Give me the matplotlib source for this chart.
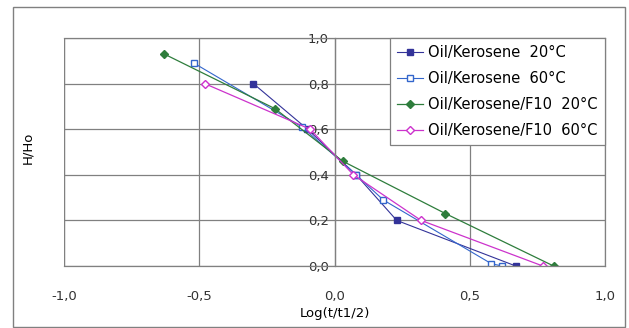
import matplotlib
matplotlib.use('Agg')
import matplotlib.pyplot as plt
from matplotlib.patches import Rectangle
from matplotlib.ticker import FuncFormatter

plt.rcParams['font.family'] = ['DejaVu Sans']

# Log(t/t1/2) vs H/Ho for each emulsion
k20_x = [-0.30, -0.10, 0.08, 0.23, 0.67]
k20_y = [0.80, 0.60, 0.40, 0.20, 0.00]
k60_x = [-0.52, -0.12, 0.08, 0.18, 0.58, 0.62]
k60_y = [0.89, 0.61, 0.40, 0.29, 0.01, 0.00]
f20_x = [-0.63, -0.22, 0.03, 0.41, 0.81]
f20_y = [0.93, 0.69, 0.46, 0.23, 0.00]
f60_x = [-0.48, -0.09, 0.07, 0.32, 0.77]
f60_y = [0.80, 0.60, 0.40, 0.20, 0.00]

labels = ['Oil/Kerosene  20°C', 'Oil/Kerosene  60°C',
          'Oil/Kerosene/F10  20°C', 'Oil/Kerosene/F10  60°C']
x_ticks = [-1.0, -0.5, 0.0, 0.5, 1.0]
y_ticks = [0.0, 0.2, 0.4, 0.6, 0.8, 1.0]

fig = plt.figure(figsize=(6.29, 3.28), dpi=100)
# outer chart border
fig.patches.append(Rectangle((13 / 629, 1 - 327 / 328), 612 / 629, 320 / 328,
                             transform=fig.transFigure, fill=False,
                             edgecolor='#808080', linewidth=1.0))

ax = fig.add_axes([64 / 629, 1 - 266 / 328, 541 / 629, 228 / 328])

ax.plot(k20_x, k20_y, '-s', color='#333399', lw=0.8, ms=5,
        mfc='#333399', mec='#333399', label=labels[0])
ax.plot(k60_x, k60_y, '-s', color='#3366cc', lw=0.8, ms=5,
        mfc='white', mec='#3366cc', label=labels[1])
ax.plot(f20_x, f20_y, '-D', color='#2e7d3c', lw=0.9, ms=4,
        mfc='#2e7d3c', mec='#2e7d3c', label=labels[2])
ax.plot(f60_x, f60_y, '-D', color='#cc33cc', lw=0.9, ms=4.5,
        mfc='white', mec='#cc33cc', label=labels[3])

ax.set_xlim(-1.0, 1.0)
ax.set_ylim(0.0, 1.0)
ax.set_xticks(x_ticks)
ax.set_yticks(y_ticks)
comma = FuncFormatter(lambda v, p: f'{v:.1f}'.replace('.', ','))
ax.xaxis.set_major_formatter(comma)
ax.yaxis.set_major_formatter(comma)
ax.grid(True, color='#808080', linewidth=0.9)
ax.set_axisbelow(True)

for s in ax.spines.values():
    s.set_color('#808080')
    s.set_linewidth(0.9)
ax.spines['left'].set_position(('data', 0.0))
ax.tick_params(axis='both', length=0, labelsize=9.5, colors='#333333')
ax.tick_params(axis='x', pad=17)
ax.tick_params(axis='y', pad=4)

# keep the frame on the left edge as a plain gridline
ax.axvline(-1.0, color='#808080', linewidth=0.9)

ax.set_xlabel('Log(t/t1/2)', fontsize=9.5, labelpad=3)
fig.text(28 / 629, 1 - 148 / 328, 'H/Ho', rotation=90, fontsize=9.5,
         ha='center', va='center')

leg = ax.legend(loc='upper right', bbox_to_anchor=(1.0, 1.0),
                borderaxespad=0.0, fancybox=False, framealpha=1.0,
                edgecolor='#808080', fontsize=10.5, handlelength=1.8,
                handletextpad=0.35, labelspacing=0.75, borderpad=0.5)
leg.get_frame().set_linewidth(0.9)

fig.savefig('out.png', dpi=100)
